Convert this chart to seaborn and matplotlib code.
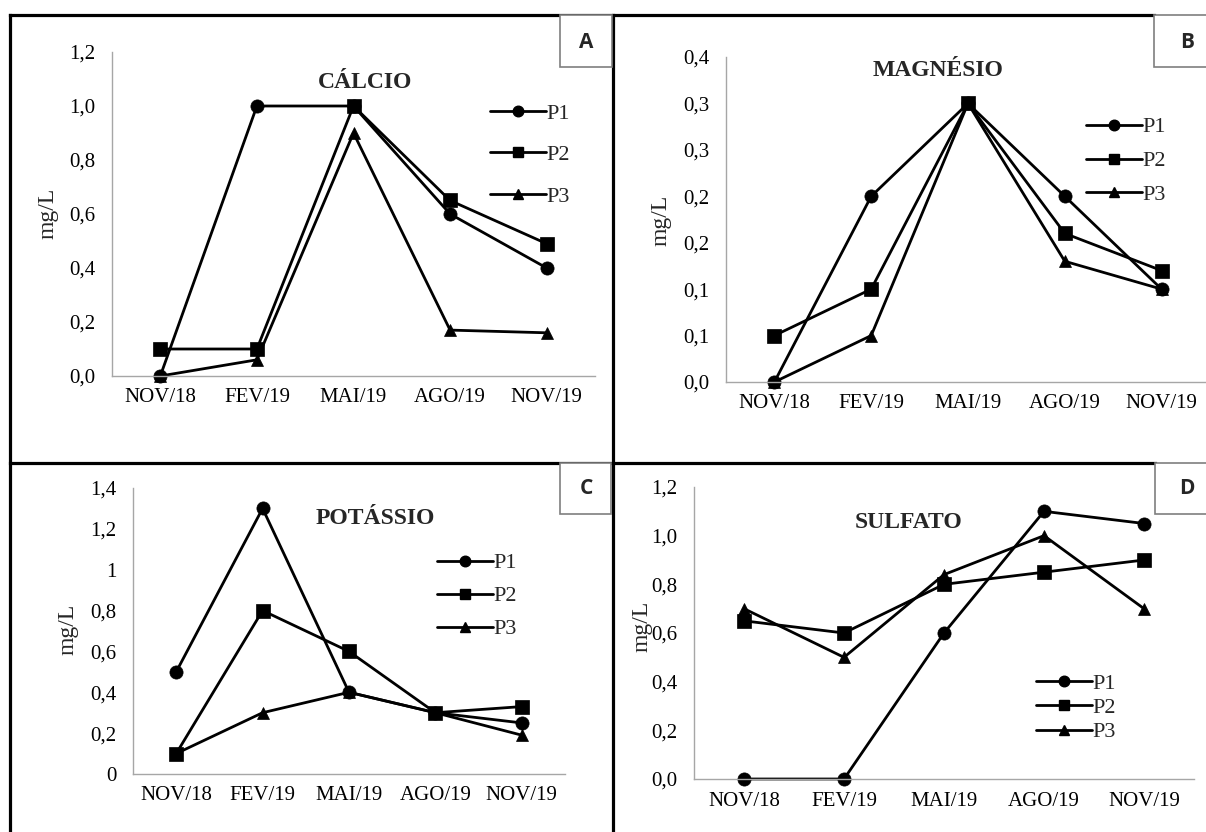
import matplotlib
matplotlib.use("Agg")
import matplotlib.pyplot as plt
from matplotlib.lines import Line2D
from matplotlib.patches import Rectangle
import seaborn as sns
import pandas as pd

# --- data -------------------------------------------------------------
meses = ["NOV/18", "FEV/19", "MAI/19", "AGO/19", "NOV/19"]
pontos = ["P1", "P2", "P3"]

calcio_p1 = [0.0, 1.0, 1.0, 0.60, 0.40]
calcio_p2 = [0.10, 0.10, 1.0, 0.65, 0.49]
calcio_p3 = [0.0, 0.06, 0.90, 0.17, 0.16]

magnesio_p1 = [0.0, 0.20, 0.30, 0.20, 0.10]
magnesio_p2 = [0.05, 0.10, 0.30, 0.16, 0.12]
magnesio_p3 = [0.0, 0.05, 0.30, 0.13, 0.10]

potassio_p1 = [0.50, 1.30, 0.40, 0.30, 0.25]
potassio_p2 = [0.10, 0.80, 0.60, 0.30, 0.33]
potassio_p3 = [0.10, 0.30, 0.40, 0.30, 0.19]

sulfato_p1 = [0.0, 0.0, 0.60, 1.10, 1.05]
sulfato_p2 = [0.65, 0.60, 0.80, 0.85, 0.90]
sulfato_p3 = [0.70, 0.50, 0.84, 1.00, 0.70]

ticks_calcio = [0.0, 0.2, 0.4, 0.6, 0.8, 1.0, 1.2]
labels_calcio = ["0,0", "0,2", "0,4", "0,6", "0,8", "1,0", "1,2"]
ticks_magnesio = [0.0, 0.05, 0.10, 0.15, 0.20, 0.25, 0.30, 0.35]
labels_magnesio = ["0,0", "0,1", "0,1", "0,2", "0,2", "0,3", "0,3", "0,4"]
ticks_potassio = [0.0, 0.2, 0.4, 0.6, 0.8, 1.0, 1.2, 1.4]
labels_potassio = ["0", "0,2", "0,4", "0,6", "0,8", "1", "1,2", "1,4"]
ticks_sulfato = [0.0, 0.2, 0.4, 0.6, 0.8, 1.0, 1.2]
labels_sulfato = ["0,0", "0,2", "0,4", "0,6", "0,8", "1,0", "1,2"]

titulos = ["CÁLCIO", "MAGNÉSIO", "POTÁSSIO", "SULFATO"]
letras = ["A", "B", "C", "D"]
unidade = "mg/L"

# --- style ------------------------------------------------------------
sns.set_style("white")
plt.rcParams["font.family"] = ["Liberation Serif", "DejaVu Serif"]

W, H = 1206, 832
fig = plt.figure(figsize=(W / 100, H / 100), dpi=100)
fig.patch.set_facecolor("white")


def fx(px):
    return px / W


def fy(py):
    return 1 - py / H


marcadores = {"P1": "o", "P2": "s", "P3": "^"}
tam_marcador = {"P1": 9.5, "P2": 9.5, "P3": 8.5}

paineis = [
    dict(series=[calcio_p1, calcio_p2, calcio_p3], ticks=ticks_calcio, labels=labels_calcio,
         ylim=(0, 1.2), box=(112, 595, 52, 376), title_xy=(365, 82), ylab_xy=(48, 213),
         leg_xy=(490, 155), leg_space=0.95),
    dict(series=[magnesio_p1, magnesio_p2, magnesio_p3], ticks=ticks_magnesio, labels=labels_magnesio,
         ylim=(0, 0.35), box=(726, 1210, 57, 382), title_xy=(938, 70), ylab_xy=(661, 220),
         leg_xy=(1086, 161), leg_space=0.6),
    dict(series=[potassio_p1, potassio_p2, potassio_p3], ticks=ticks_potassio, labels=labels_potassio,
         ylim=(0, 1.4), box=(133, 565, 488, 774), title_xy=(375, 518), ylab_xy=(68, 629),
         leg_xy=(437, 596), leg_space=0.56),
    dict(series=[sulfato_p1, sulfato_p2, sulfato_p3], ticks=ticks_sulfato, labels=labels_sulfato,
         ylim=(0, 1.2), box=(694, 1194, 487, 779), title_xy=(909, 522), ylab_xy=(642, 626),
         leg_xy=(1036, 708), leg_space=0.16),
]

for painel, titulo in zip(paineis, titulos):
    x0, x1, y0, y1 = painel["box"]
    ax = fig.add_axes([fx(x0), fy(y1), fx(x1 - x0), (y1 - y0) / H])
    ax.set_facecolor("none")

    df = pd.DataFrame({
        "mes": meses * len(pontos),
        "valor": [v for s in painel["series"] for v in s],
        "ponto": [p for p in pontos for _ in meses],
    })
    for p in pontos:
        sub = df[df["ponto"] == p]
        sns.lineplot(data=sub, x="mes", y="valor", ax=ax, color="black", sort=False,
                     marker=marcadores[p], markersize=tam_marcador[p],
                     markeredgecolor="black", markerfacecolor="black",
                     markeredgewidth=0.5, linewidth=2.0, legend=False, clip_on=False)

    ax.set_xlim(-0.5, len(meses) - 0.5)
    ax.set_ylim(*painel["ylim"])
    ax.set_yticks(painel["ticks"])
    ax.set_yticklabels(painel["labels"])
    ax.set_xticks(range(len(meses)))
    ax.set_xticklabels(meses)
    ax.set_xlabel("")
    ax.set_ylabel("")
    ax.tick_params(axis="both", length=0, labelsize=15, colors="black")
    ax.tick_params(axis="y", pad=12)
    ax.tick_params(axis="x", pad=9)
    for lado in ["top", "right"]:
        ax.spines[lado].set_visible(False)
    for lado in ["left", "bottom"]:
        ax.spines[lado].set_color("#a6a6a6")
        ax.spines[lado].set_linewidth(1.0)

    fig.text(fx(painel["title_xy"][0]), fy(painel["title_xy"][1]), titulo,
             ha="center", va="center", fontsize=17, fontweight="bold")
    fig.text(fx(painel["ylab_xy"][0]), fy(painel["ylab_xy"][1]), unidade,
             ha="center", va="center", rotation=90, fontsize=17)

    handles = [Line2D([0], [0], color="black", linewidth=2.0, marker=marcadores[p],
                      markersize=tam_marcador[p] * 0.8, markerfacecolor="black",
                      markeredgecolor="black") for p in pontos]
    fig.legend(handles, pontos, loc="center left",
               bbox_to_anchor=(fx(painel["leg_xy"][0]), fy(painel["leg_xy"][1])),
               bbox_transform=fig.transFigure, frameon=False, fontsize=16,
               borderpad=0, borderaxespad=0, handlelength=2.5, handletextpad=0.05,
               labelspacing=painel["leg_space"])

# --- frame of the panel grid ------------------------------------------
lw = 2.3
linhas = [
    ((10, 10), (15, 832)),
    ((10, 1154), (15, 15)),
    ((613, 613), (15, 832)),
    ((10, 1155), (463, 463)),
]
for xs, ys in linhas:
    fig.add_artist(Line2D([fx(x) for x in xs], [fy(y) for y in ys],
                          color="black", linewidth=lw, solid_capstyle="projecting"))

# --- letter boxes -----------------------------------------------------
caixas = [(560, 612, 15, 67), (1154, 1225, 15, 67), (560, 611, 463, 514), (1155, 1225, 463, 514)]
centros = [(586, 42), (1187, 42), (586, 489), (1187, 489)]
for (bx0, bx1, by0, by1), (cx, cy), letra in zip(caixas, centros, letras):
    fig.add_artist(Rectangle((fx(bx0), fy(by1)), fx(bx1 - bx0), (by1 - by0) / H,
                             transform=fig.transFigure, facecolor="white",
                             edgecolor="#7f7f7f", linewidth=1.2, zorder=5))
    fig.text(fx(cx), fy(cy), letra, ha="center", va="center", fontsize=15,
             fontweight="bold", family=["Open Sans", "DejaVu Sans"], zorder=6)

fig.savefig("out.png", dpi=100, facecolor="white")
